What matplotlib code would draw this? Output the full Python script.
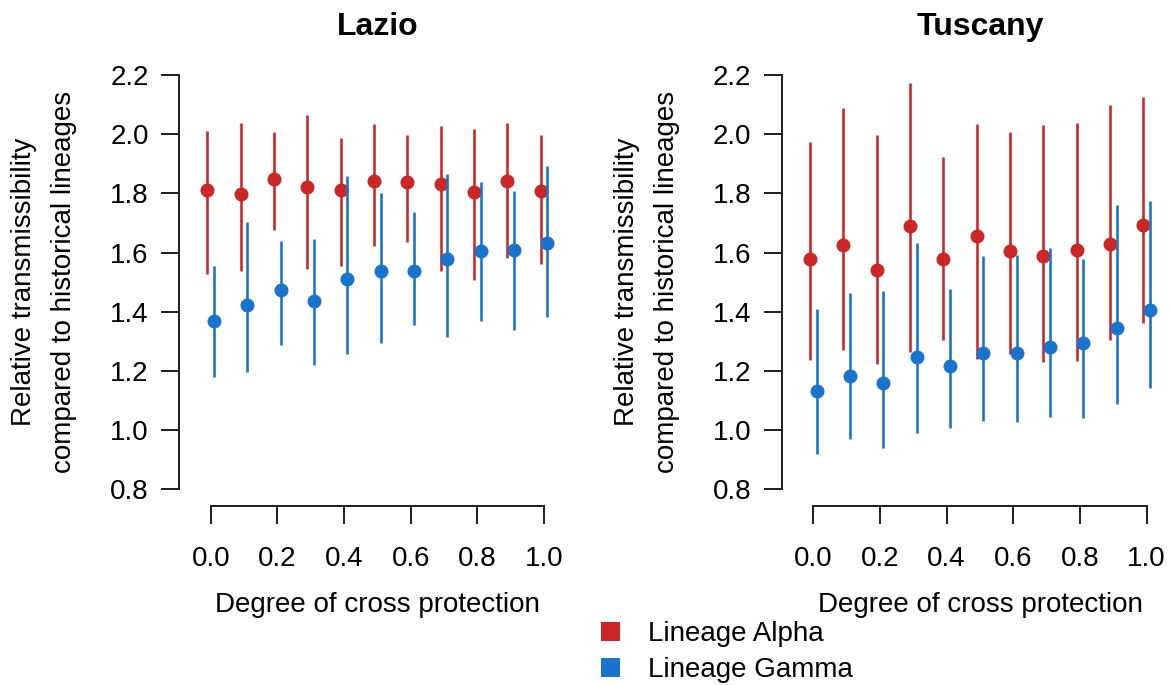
import matplotlib
matplotlib.use("Agg")
import matplotlib.pyplot as plt
from matplotlib.lines import Line2D
import numpy as np

plt.rcParams['font.family'] = ['Liberation Sans', 'DejaVu Sans']

# ---- data ----
cross_protection = [0.0, 0.1, 0.2, 0.3, 0.4, 0.5, 0.6, 0.7, 0.8, 0.9, 1.0]

lazio_alpha_mid = [1.811, 1.798, 1.849, 1.822, 1.811, 1.843, 1.837, 1.833, 1.806, 1.841, 1.808]
lazio_alpha_lo  = [1.529, 1.538, 1.676, 1.545, 1.555, 1.621, 1.636, 1.539, 1.506, 1.583, 1.560]
lazio_alpha_hi  = [2.011, 2.038, 2.006, 2.065, 1.986, 2.033, 1.996, 2.029, 2.018, 2.039, 1.996]

lazio_gamma_mid = [1.368, 1.424, 1.474, 1.435, 1.512, 1.539, 1.537, 1.577, 1.606, 1.609, 1.632]
lazio_gamma_lo  = [1.179, 1.197, 1.289, 1.220, 1.256, 1.293, 1.354, 1.315, 1.369, 1.337, 1.383]
lazio_gamma_hi  = [1.555, 1.703, 1.639, 1.647, 1.860, 1.800, 1.738, 1.866, 1.839, 1.808, 1.892]

tuscany_alpha_mid = [1.577, 1.624, 1.542, 1.689, 1.577, 1.655, 1.604, 1.588, 1.610, 1.628, 1.692]
tuscany_alpha_lo  = [1.236, 1.271, 1.224, 1.264, 1.304, 1.241, 1.256, 1.231, 1.234, 1.304, 1.361]
tuscany_alpha_hi  = [1.975, 2.087, 1.997, 2.173, 1.922, 2.033, 2.006, 2.030, 2.037, 2.100, 2.125]

tuscany_gamma_mid = [1.133, 1.182, 1.158, 1.248, 1.218, 1.260, 1.262, 1.282, 1.295, 1.345, 1.407]
tuscany_gamma_lo  = [0.918, 0.969, 0.941, 0.991, 1.009, 1.032, 1.028, 1.044, 1.042, 1.089, 1.141]
tuscany_gamma_hi  = [1.410, 1.464, 1.470, 1.631, 1.478, 1.588, 1.592, 1.616, 1.578, 1.760, 1.775]

regions = ["Lazio", "Tuscany"]
x_ticks = [0.0, 0.2, 0.4, 0.6, 0.8, 1.0]
y_ticks = [0.8, 1.0, 1.2, 1.4, 1.6, 1.8, 2.0, 2.2]
series_labels = ["Lineage Alpha", "Lineage Gamma"]

RED = "#CD2626"
BLUE = "#1874CD"

W, H = 1172, 685
fig = plt.figure(figsize=(W / 100, H / 100), dpi=100)

def px_rect(left, top, right, bottom):
    return [left / W, 1 - bottom / H, (right - left) / W, (bottom - top) / H]

panels = [
    (regions[0], px_rect(193.8, 58.4, 560.9, 506),
     (lazio_alpha_mid, lazio_alpha_lo, lazio_alpha_hi),
     (lazio_gamma_mid, lazio_gamma_lo, lazio_gamma_hi)),
    (regions[1], px_rect(796.4, 58.4, 1163.5, 506),
     (tuscany_alpha_mid, tuscany_alpha_lo, tuscany_alpha_hi),
     (tuscany_gamma_mid, tuscany_gamma_lo, tuscany_gamma_hi)),
]

FS = 20
px2pt = 72 / 100
x = np.array(cross_protection)
off = 0.01

for name, rect, alpha, gamma in panels:
    ax = fig.add_axes(rect)
    for (mid, lo, hi), col, dx in ((alpha, RED, -off), (gamma, BLUE, off)):
        ax.vlines(x + dx, lo, hi, color=col, lw=2.6 * px2pt, capstyle='butt')
        ax.plot(x + dx, mid, 'o', color=col, ms=14 * px2pt, mec=col, mew=0)
    ax.set_xlim(-0.0508, 1.0508)
    ax.set_ylim(0.744, 2.256)
    for s in ('top', 'right'):
        ax.spines[s].set_visible(False)
    ax.spines['left'].set_position(('outward', 14.4 * px2pt))
    ax.spines['left'].set_bounds(0.8, 2.2)
    ax.spines['bottom'].set_bounds(0.0, 1.0)
    for s in ('left', 'bottom'):
        ax.spines[s].set_linewidth(2 * px2pt)
        ax.spines[s].set_color('#222222')
    ax.set_xticks(x_ticks)
    ax.set_xticklabels([f"{v:.1f}" for v in x_ticks])
    ax.set_yticks(y_ticks)
    ax.set_yticklabels([f"{v:.1f}" for v in y_ticks])
    ax.tick_params(axis='both', length=17.7 * px2pt, width=2 * px2pt,
                   color='#222222', labelsize=FS)
    ax.tick_params(axis='y', pad=13 * px2pt)
    ax.tick_params(axis='x', pad=22 * px2pt)
    # title
    bb = ax.get_position()
    cx = bb.x0 + bb.width / 2
    fig.text(cx, 1 - 27 / H, name, ha='center', va='center',
             fontsize=23, fontweight='bold')
    fig.text(cx, 1 - 605 / H, "Degree of cross protection", ha='center',
             va='center', fontsize=FS)
    # y label (two lines)
    axis_px = bb.x0 * W - 14.4
    ycen = 1 - 282 / H
    fig.text((axis_px - 155) / W, ycen, "Relative transmissibility",
             rotation=90, ha='center', va='center', fontsize=FS)
    fig.text((axis_px - 115) / W, ycen, "compared to historical lineages",
             rotation=90, ha='center', va='center', fontsize=FS)

handles = [Line2D([], [], marker='s', ls='none', color=RED, ms=19 * px2pt, mew=0),
           Line2D([], [], marker='s', ls='none', color=BLUE, ms=19 * px2pt, mew=0)]
fig.legend(handles, series_labels, loc='upper left',
           bbox_to_anchor=(582 / W, 1 - 621 / H), frameon=False,
           fontsize=FS, borderpad=0, handlelength=2.0, handletextpad=0.37,
           labelspacing=0.35, borderaxespad=0)

fig.savefig("out.png", dpi=100)
